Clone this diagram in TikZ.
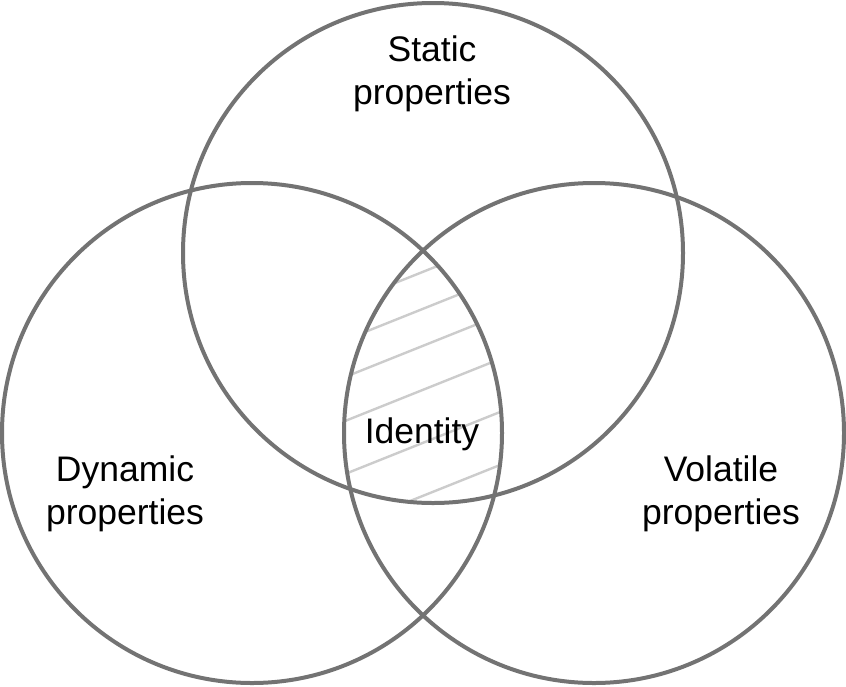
\documentclass[tikz,border=0pt]{standalone}
\usepackage{fontspec}
\setmainfont{Liberation Sans}

\begin{document}
\begin{tikzpicture}[x=1pt,y=-1pt,
  set/.style={draw=black!55,line width=4pt,circle,inner sep=0pt,minimum size=500pt},
  lbl/.style={align=center,inner sep=0pt,font=\fontsize{35.5}{43}\selectfont},
  hatch/.style={draw=black!20,line width=2.4pt}
]
  \useasboundingbox (0,0) rectangle (846,686);
  \coordinate (cstatic) at (433,253);
  \coordinate (cdynamic) at (252,433);
  \coordinate (cvolatile) at (594,433);
  % hatched core
  \begin{scope}
    \clip (cstatic) circle[radius=250];
    \clip (cdynamic) circle[radius=250];
    \clip (cvolatile) circle[radius=250];
    \draw[hatch] (330,309) -- (510,237);
    \draw[hatch] (330,346) -- (510,274);
    \draw[hatch] (330,383) -- (510,311);
    \draw[hatch] (330,427) -- (510,355);
    \draw[hatch] (330,480) -- (510,408);
    \draw[hatch] (330,533) -- (510,461);
  \end{scope}
  \node[set] (static) at (cstatic) {};
  \node[set] (dynamic) at (cdynamic) {};
  \node[set] (volatile) at (cvolatile) {};
  \node[lbl] (staticlbl) at (432,74) {Static\\properties};
  \node[lbl] (dynamiclbl) at (125,494) {Dynamic\\properties};
  \node[lbl] (volatilelbl) at (721,494) {Volatile\\properties};
  \node[lbl] (identitylbl) at (422,434) {Identity};
\end{tikzpicture}
\end{document}
